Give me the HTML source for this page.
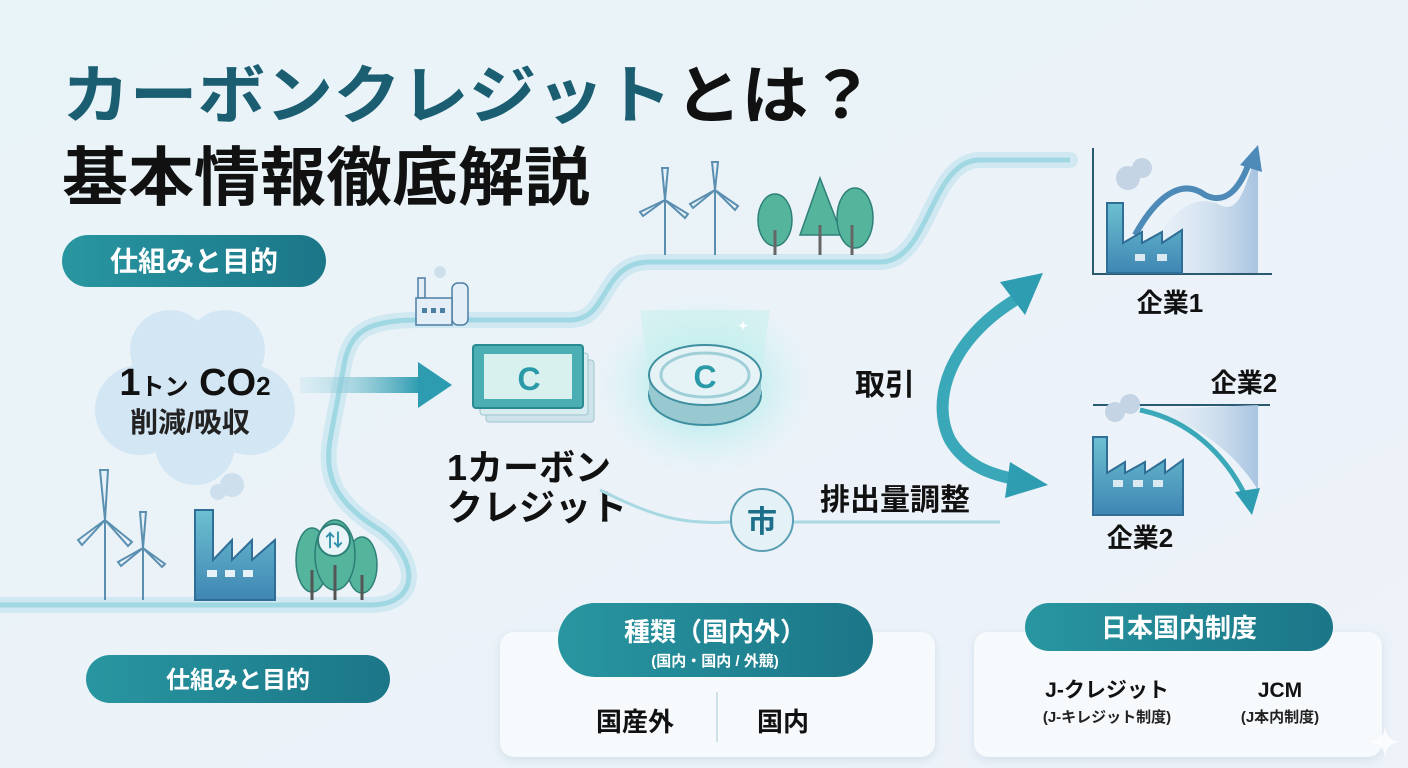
<!DOCTYPE html>
<html><head><meta charset="utf-8">
<style>
html,body{margin:0;padding:0;width:1408px;height:768px;overflow:hidden;background:#eef5f9}
svg{display:block}
text{font-family:"Liberation Sans","Noto Sans CJK JP",sans-serif;font-weight:bold}
</style></head><body>
<svg width="1408" height="768" viewBox="0 0 1408 768" xmlns="http://www.w3.org/2000/svg">
<defs>
<linearGradient id="bg" x1="0" y1="0" x2="1" y2="1"><stop offset="0" stop-color="#e8f3f8"/><stop offset="1" stop-color="#eef2f9"/></linearGradient>
<linearGradient id="pill" x1="0" y1="0" x2="1" y2="0"><stop offset="0" stop-color="#2896a0"/><stop offset="1" stop-color="#1b7688"/></linearGradient>
<linearGradient id="fac" x1="0" y1="0" x2="0" y2="1"><stop offset="0" stop-color="#6cc0d0"/><stop offset="1" stop-color="#3f86b4"/></linearGradient>
<linearGradient id="area" x1="0" y1="0" x2="1" y2="0"><stop offset="0" stop-color="#dfeaf4" stop-opacity="0"/><stop offset="1" stop-color="#a8c4e0"/></linearGradient>
<linearGradient id="arr" x1="0" y1="0" x2="1" y2="0"><stop offset="0" stop-color="#bfe3ec" stop-opacity="0.3"/><stop offset="1" stop-color="#2d9bb0"/></linearGradient>
<radialGradient id="glow"><stop offset="0" stop-color="#7de3e0" stop-opacity="0.8"/><stop offset="1" stop-color="#bff0ee" stop-opacity="0"/></radialGradient>
<filter id="sh" x="-10%" y="-10%" width="120%" height="130%"><feDropShadow dx="0" dy="3" stdDeviation="5" flood-color="#8fb0c8" flood-opacity="0.3"/></filter>
</defs>
<rect width="1408" height="768" fill="url(#bg)"/>

<!-- Title -->
<text x="62" y="118" font-size="64" fill="#1b5e72" textLength="610" lengthAdjust="spacingAndGlyphs">カーボンクレジット</text>
<text x="675" y="118" font-size="64" fill="#111" textLength="200" lengthAdjust="spacingAndGlyphs">とは？</text>
<text x="62" y="200" font-size="64" fill="#111" textLength="528" lengthAdjust="spacingAndGlyphs">基本情報徹底解説</text>

<!-- pills left -->
<rect x="62" y="235" width="264" height="52" rx="26" fill="url(#pill)"/>
<text x="194" y="271" font-size="28" fill="#fff" text-anchor="middle">仕組みと目的</text>
<rect x="86" y="655" width="304" height="48" rx="24" fill="url(#pill)"/>
<text x="238" y="688" font-size="24" fill="#fff" text-anchor="middle">仕組みと目的</text>

<!-- road path -->
<path d="M0 605 L370 605 C420 605 420 560 380 530 C330 500 325 470 330 440 L345 360 C352 330 370 320 420 320 L570 320 C610 320 600 262 650 262 L880 262 C930 262 930 160 980 160 L1070 160" fill="none" stroke="#cfe8f1" stroke-width="16" stroke-linecap="round"/>
<path d="M0 605 L370 605 C420 605 420 560 380 530 C330 500 325 470 330 440 L345 360 C352 330 370 320 420 320 L570 320 C610 320 600 262 650 262 L880 262 C930 262 930 160 980 160 L1070 160" fill="none" stroke="#9fd7e2" stroke-width="5"/>

<!-- cloud -->
<g fill="#d3e6f3">
<circle cx="195" cy="395" r="70"/><circle cx="140" cy="410" r="45"/><circle cx="250" cy="410" r="45"/><circle cx="170" cy="350" r="40"/><circle cx="225" cy="350" r="40"/><circle cx="195" cy="445" r="40"/>
</g>
<text x="195" y="395" font-size="38" fill="#111" text-anchor="middle">1<tspan font-size="24">トン</tspan> CO<tspan font-size="26">2</tspan></text>
<text x="190" y="432" font-size="28" fill="#222" text-anchor="middle">削減/吸収</text>

<!-- arrow -->
<rect x="300" y="377" width="120" height="16" fill="url(#arr)"/>
<polygon points="418,362 452,385 418,408" fill="#2d9bb0"/>

<!-- bottom-left icons -->
<g stroke="#5b8fb0" stroke-width="2" fill="#e6f1f8">
<line x1="105" y1="520" x2="105" y2="600"/><path d="M105 520 L100 470 L108 470 Z M105 520 L78 540 L82 545 Z M105 520 L132 542 L128 546 Z"/>
<line x1="143" y1="548" x2="143" y2="600"/><path d="M143 548 L140 512 L146 512 Z M143 548 L118 562 L121 566 Z M143 548 L165 564 L162 567 Z"/>
</g>
<circle cx="232" cy="485" r="12" fill="#cddfed"/><circle cx="218" cy="492" r="8" fill="#cddfed"/>
<path d="M195 600 L195 510 L213 510 L213 560 L232 540 L232 560 L252 540 L252 560 L275 540 L275 600 Z" fill="url(#fac)" stroke="#2f6e96" stroke-width="2"/>
<rect x="207" y="570" width="10" height="7" fill="#e6f1f8"/><rect x="225" y="570" width="10" height="7" fill="#e6f1f8"/><rect x="243" y="570" width="10" height="7" fill="#e6f1f8"/>
<g fill="#55b59c" stroke="#2e7f78" stroke-width="1.5">
<ellipse cx="312" cy="560" rx="16" ry="32"/><ellipse cx="362" cy="565" rx="15" ry="28"/><ellipse cx="335" cy="555" rx="20" ry="35"/>
</g>
<g stroke="#555" stroke-width="3"><line x1="312" y1="570" x2="312" y2="600"/><line x1="335" y1="565" x2="335" y2="600"/><line x1="362" y1="575" x2="362" y2="600"/></g>
<circle cx="334" cy="540" r="16" fill="#e8f4f8" stroke="#2e7f78" stroke-width="2"/>
<text x="334" y="547" font-size="18" fill="#2d8fa8" text-anchor="middle">⇅</text>

<!-- small factory top -->
<g stroke="#4c7ea4" stroke-width="1.5" fill="#e3eef6">
<rect x="418" y="278" width="7" height="20"/><rect x="452" y="283" width="16" height="42" rx="6"/><rect x="416" y="298" width="36" height="27"/>
</g>
<circle cx="440" cy="272" r="6" fill="#cddfed"/>
<rect x="422" y="308" width="5" height="5" fill="#4c7ea4"/><rect x="431" y="308" width="5" height="5" fill="#4c7ea4"/><rect x="440" y="308" width="5" height="5" fill="#4c7ea4"/>

<!-- top windmills/trees -->
<g stroke="#5b8fb0" stroke-width="2" fill="#e6f1f8">
<line x1="665" y1="200" x2="665" y2="255"/><path d="M665 200 L662 168 L668 168 Z M665 200 L640 212 L643 216 Z M665 200 L688 214 L685 218 Z"/>
<line x1="715" y1="190" x2="715" y2="255"/><path d="M715 190 L712 162 L718 162 Z M715 190 L690 204 L693 208 Z M715 190 L738 206 L735 210 Z"/>
</g>
<g fill="#55b59c" stroke="#2e7f78" stroke-width="1.5">
<ellipse cx="775" cy="220" rx="17" ry="26"/><polygon points="820,178 800,235 842,235"/><ellipse cx="855" cy="218" rx="18" ry="30"/>
</g>
<g stroke="#666" stroke-width="3"><line x1="775" y1="230" x2="775" y2="255"/><line x1="820" y1="225" x2="820" y2="255"/><line x1="852" y1="225" x2="852" y2="255"/></g>

<!-- credit note -->
<rect x="486" y="360" width="108" height="62" rx="3" fill="#cfe3ea" stroke="#9fc4cf"/>
<rect x="480" y="353" width="108" height="62" rx="3" fill="#d9ecef" stroke="#9fc4cf"/>
<rect x="473" y="345" width="110" height="63" rx="3" fill="#4aaeb2" stroke="#2a8a92" stroke-width="2"/>
<rect x="484" y="354" width="88" height="45" fill="#d8f0ee"/>
<text x="529" y="390" font-size="32" fill="#2a9aa8" text-anchor="middle">C</text>

<!-- coin -->
<ellipse cx="705" cy="385" rx="110" ry="90" fill="url(#glow)"/>
<polygon points="640,310 770,310 760,380 650,380" fill="#c6f0ec" opacity="0.5"/>
<ellipse cx="705" cy="395" rx="56" ry="30" fill="#98c8d0" stroke="#3e8fa0" stroke-width="2"/>
<rect x="649" y="375" width="112" height="20" fill="#98c8d0"/>
<ellipse cx="705" cy="375" rx="56" ry="30" fill="#e6f3f6" stroke="#3e8fa0" stroke-width="2"/>
<ellipse cx="705" cy="375" rx="44" ry="22" fill="none" stroke="#a0cfd8" stroke-width="3"/>
<text x="705" y="388" font-size="32" fill="#2a9aa8" text-anchor="middle">C</text>
<text x="738" y="330" font-size="12" fill="#fff">✦</text>

<text x="447" y="480" font-size="36" fill="#111">1カーボン</text>
<text x="447" y="520" font-size="36" fill="#111">クレジット</text>

<!-- 市 line -->
<path d="M600 490 C650 515 680 525 730 522 L1000 522" fill="none" stroke="#a8d8e2" stroke-width="3"/>
<circle cx="762" cy="520" r="31" fill="#e4f1f6" stroke="#5b9fb4" stroke-width="2"/>
<text x="762" y="532" font-size="30" fill="#1d6e88" text-anchor="middle">市</text>
<text x="820" y="510" font-size="30" fill="#111">排出量調整</text>
<text x="855" y="395" font-size="30" fill="#111">取引</text>

<!-- curved double arrow -->
<path d="M1015 300 C950 340 930 400 950 440 C965 465 990 475 1020 480" fill="none" stroke="#3aa8b8" stroke-width="12"/>
<polygon points="1043,273 1000,282 1025,315" fill="#2e9db2"/>
<polygon points="1048,485 1010,462 1005,498" fill="#2e9db2"/>

<!-- chart 1 -->
<path d="M1140 273 C1160 220 1190 190 1220 205 C1240 215 1245 185 1258 150 L1258 273 Z" fill="url(#area)"/>
<line x1="1093" y1="148" x2="1093" y2="275" stroke="#2a5a70" stroke-width="2"/>
<line x1="1093" y1="274" x2="1272" y2="274" stroke="#2a5a70" stroke-width="2"/>
<circle cx="1128" cy="178" r="12" fill="#c4d4e4"/><circle cx="1142" cy="168" r="10" fill="#c4d4e4"/>
<path d="M1135 235 C1160 190 1185 180 1205 195 C1225 205 1240 190 1250 160" fill="none" stroke="#4d8ab8" stroke-width="6"/>
<polygon points="1258,145 1240,165 1262,172" fill="#4d8ab8"/>
<path d="M1107 273 L1107 203 L1123 203 L1123 243 L1142 232 L1142 243 L1162 232 L1162 243 L1182 230 L1182 273 Z" fill="url(#fac)" stroke="#2f6e96" stroke-width="2"/>
<rect x="1135" y="254" width="10" height="7" fill="#dbe9f3"/><rect x="1157" y="254" width="10" height="7" fill="#dbe9f3"/>
<text x="1170" y="312" font-size="26" fill="#111" text-anchor="middle">企業1</text>

<!-- chart 2 -->
<text x="1244" y="392" font-size="26" fill="#111" text-anchor="middle">企業2</text>
<line x1="1093" y1="405" x2="1270" y2="405" stroke="#2a5a70" stroke-width="2"/>
<path d="M1140 410 C1200 420 1240 460 1258 490 L1258 405 Z" fill="url(#area)"/>
<circle cx="1115" cy="412" r="10" fill="#c4d4e4"/><circle cx="1130" cy="404" r="10" fill="#c4d4e4"/>
<path d="M1140 410 C1190 420 1225 455 1245 495" fill="none" stroke="#3aa8b8" stroke-width="5"/>
<polygon points="1252,515 1235,492 1260,488" fill="#2e9db2"/>
<path d="M1093 515 L1093 437 L1107 437 L1107 473 L1125 462 L1125 473 L1145 462 L1145 473 L1165 460 L1165 473 L1183 460 L1183 515 Z" fill="url(#fac)" stroke="#2f6e96" stroke-width="2"/>
<rect x="1113" y="480" width="10" height="7" fill="#dbe9f3"/><rect x="1133" y="480" width="10" height="7" fill="#dbe9f3"/><rect x="1153" y="480" width="10" height="7" fill="#dbe9f3"/>
<text x="1140" y="547" font-size="26" fill="#111" text-anchor="middle">企業2</text>

<!-- cards -->
<rect x="500" y="632" width="435" height="125" rx="14" fill="#f6fafc" filter="url(#sh)"/>
<rect x="558" y="603" width="315" height="74" rx="37" fill="url(#pill)"/>
<text x="715" y="641" font-size="26" fill="#fff" text-anchor="middle">種類（国内外）</text>
<text x="715" y="666" font-size="15" fill="#fff" text-anchor="middle">(国内・国内 / 外競)</text>
<line x1="717" y1="692" x2="717" y2="742" stroke="#c4d8e2" stroke-width="1.5"/>
<text x="635" y="731" font-size="26" fill="#111" text-anchor="middle">国産外</text>
<text x="783" y="731" font-size="26" fill="#111" text-anchor="middle">国内</text>

<rect x="974" y="632" width="408" height="125" rx="14" fill="#f6fafc" filter="url(#sh)"/>
<rect x="1025" y="603" width="308" height="48" rx="24" fill="url(#pill)"/>
<text x="1179" y="637" font-size="26" fill="#fff" text-anchor="middle">日本国内制度</text>
<text x="1107" y="697" font-size="21" fill="#111" text-anchor="middle">J-クレジット</text>
<text x="1107" y="722" font-size="15" fill="#222" text-anchor="middle">(J-キレジット制度)</text>
<text x="1280" y="697" font-size="21" fill="#111" text-anchor="middle">JCM</text>
<text x="1280" y="722" font-size="15" fill="#222" text-anchor="middle">(J本内制度)</text>
<text x="1385" y="755" font-size="36" fill="#fff" text-anchor="middle" opacity="0.8">✦</text>
</svg>
</body></html>
